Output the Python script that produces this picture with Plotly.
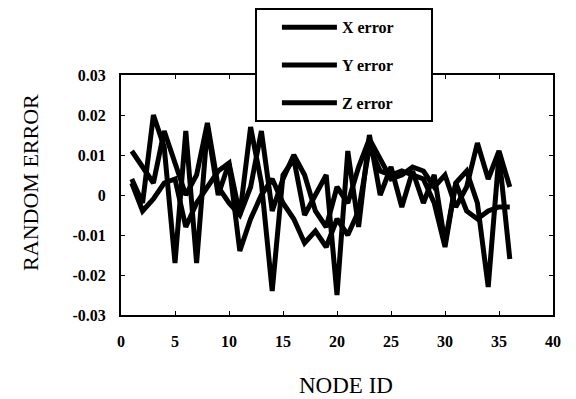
import plotly.graph_objects as go

nodes = list(range(1, 37))
x_error = [0.011, 0.007, 0.003, 0.016, 0.008, 0.000, 0.005, 0.018, 0.002, -0.002,
           -0.005, 0.002, 0.016, -0.004, 0.004, 0.010, 0.005, -0.004, -0.008, 0.002,
           -0.002, 0.007, 0.014, 0.009, 0.004, 0.005, 0.007, 0.006, 0.002, 0.005,
           -0.003, 0.002, 0.013, 0.004, 0.011, 0.002]
y_error = [0.003, -0.004, -0.001, 0.003, 0.004, -0.008, -0.002, 0.002, 0.006, 0.008,
           -0.014, -0.006, 0.000, 0.004, -0.002, -0.006, -0.012, -0.009, -0.013, -0.006,
           -0.010, -0.004, 0.012, 0.006, 0.005, 0.006, 0.005, 0.004, -0.002, -0.013,
           0.003, -0.004, -0.006, -0.004, -0.003, -0.003]
z_error = [0.004, -0.002, 0.020, 0.012, -0.017, 0.016, -0.017, 0.017, 0.000, 0.008,
           -0.005, 0.017, 0.003, -0.024, 0.005, 0.009, -0.005, 0.000, 0.005, -0.025,
           0.011, -0.008, 0.015, 0.000, 0.007, -0.003, 0.006, -0.002, 0.005, -0.012,
           0.003, 0.006, -0.002, -0.023, 0.010, -0.016]

x_ticks = [0, 5, 10, 15, 20, 25, 30, 35, 40]
y_ticks = [-0.03, -0.02, -0.01, 0, 0.01, 0.02, 0.03]
y_tick_labels = ["-0.03", "-0.02", "-0.01", "0", "0.01", "0.02", "0.03"]

series = [("X error", x_error), ("Y error", y_error), ("Z error", z_error)]

fig = go.Figure()
for name, vals in series:
    fig.add_trace(go.Scatter(x=nodes, y=vals, mode="lines",
                             name=name + "\u00a0" * 8, legendgroup=name,
                             line=dict(color="black", width=5)))

serif = "Liberation Serif"
axis_common = dict(showline=True, linecolor="black", linewidth=2, mirror="ticks",
                   ticks="inside", ticklen=4, tickcolor="black", showgrid=False,
                   zeroline=False,
                   tickfont=dict(family=serif, size=16, color="black", weight="bold"))

fig.update_layout(
    width=576, height=399,
    margin=dict(l=113, r=31, t=67, b=92, autoexpand=False),
    paper_bgcolor="white", plot_bgcolor="white",
    showlegend=True,
    legend=dict(x=0.31, y=1.278, xanchor="left", yanchor="top",
                bgcolor="white", bordercolor="black", borderwidth=2,
                font=dict(family=serif, size=16, color="black", weight="bold"),
                tracegroupgap=14, indentation=20, itemwidth=55),
    xaxis=dict(range=[0, 40], tickvals=x_ticks, ticklabelstandoff=11, **axis_common),
    yaxis=dict(range=[-0.03, 0.03], tickvals=y_ticks, ticktext=y_tick_labels,
               ticklabelstandoff=10, **axis_common),
    annotations=[
        dict(text="NODE ID", xref="paper", yref="paper", x=0.521, y=-0.292,
             xanchor="center", yanchor="middle", showarrow=False,
             font=dict(family=serif, size=23, color="black")),
        dict(text="RANDOM ERROR", xref="paper", yref="paper", x=-0.211, y=0.554,
             xanchor="center", yanchor="middle", showarrow=False, textangle=-90,
             font=dict(family=serif, size=22, color="black")),
    ],
)

fig.write_html("out.html")
